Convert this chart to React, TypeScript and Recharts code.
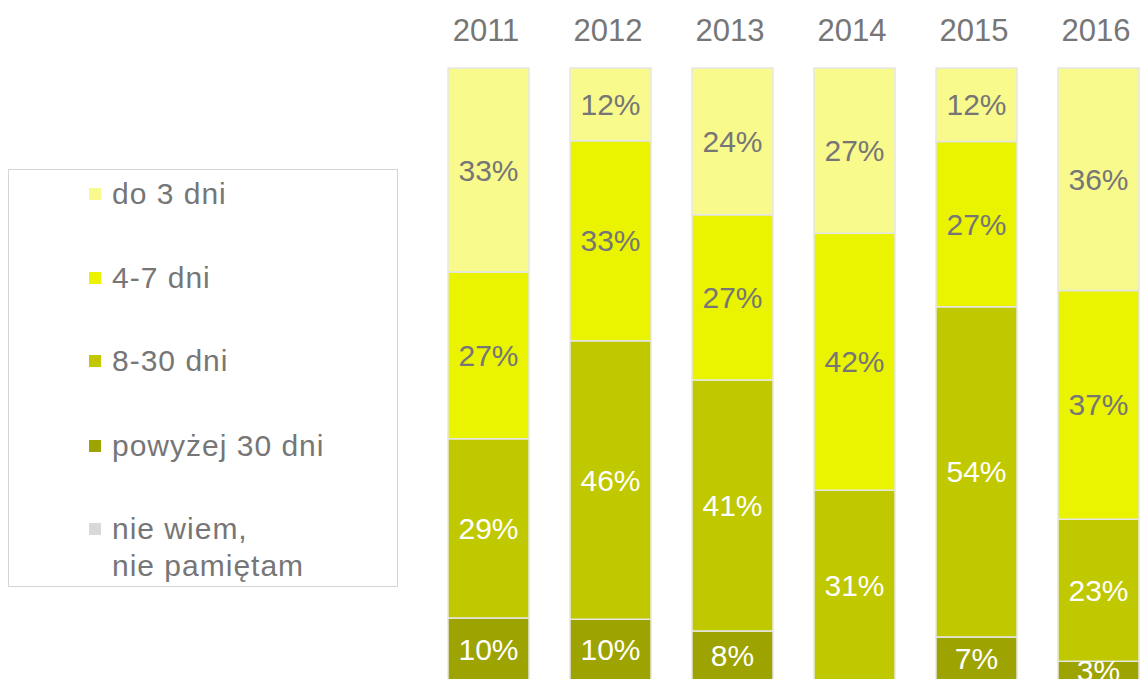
import React from 'react';
import { BarChart, Bar, XAxis, YAxis, Legend, LabelList } from 'recharts';

const years = ['2011', '2012', '2013', '2014', '2015', '2016'];
const do3Dni = [33, 12, 24, 27, 12, 36];
const dni4to7 = [27, 33, 27, 42, 27, 37];
const dni8to30 = [29, 46, 41, 31, 54, 23];
const powyzej30 = [10, 10, 8, 0, 7, 3];
const nieWiem = [1, 1, 1, 1, 1, 1];

const seriesKeys = ['do3', 'd47', 'd830', 'pow30', 'nw'];
const seriesNames = ['do 3 dni', '4-7 dni', '8-30 dni', 'powyżej 30 dni', 'nie wiem,\nnie pamiętam'];
const seriesColors = ['#F9FA8C', '#EAF400', '#C0C800', '#9DA300', '#D9D9D9'];

const data = years.map((y, i) => ({
  year: y,
  do3: do3Dni[i],
  d47: dni4to7[i],
  d830: dni8to30[i],
  pow30: powyzej30[i],
  nw: nieWiem[i],
}));

const GREY = '#767676';
const FONT = '"Liberation Sans", Arial, sans-serif';

const fmt = (v: any) => (v ? `${v}%` : '');

const legendCenters = [24, 108, 191, 276, 359];

const LegendBox = () => (
  <div
    style={{
      position: 'relative',
      width: 390,
      height: 418,
      boxSizing: 'border-box',
      border: '1px solid #d4d4d4',
      fontFamily: FONT,
      fontSize: 30,
      letterSpacing: 1,
      color: GREY,
    }}
  >
    {seriesNames.map((name, i) => {
      const lines = name.split('\n');
      return (
        <div key={name}>
          <div
            style={{
              position: 'absolute',
              left: 80,
              top: legendCenters[i] - 6,
              width: 12,
              height: 12,
              background: seriesColors[i],
            }}
          />
          {lines.map((ln, j) => (
            <div
              key={j}
              style={{
                position: 'absolute',
                left: 103,
                top: legendCenters[i] + j * 37 - 18,
                height: 36,
                lineHeight: '36px',
                whiteSpace: 'nowrap',
              }}
            >
              {ln}
            </div>
          ))}
        </div>
      );
    })}
  </div>
);

export default function App() {
  const barOrder = [4, 3, 2, 1, 0];
  return (
    <div
      style={{
        position: 'absolute',
        left: 0,
        top: 0,
        width: 1140,
        height: 679,
        overflow: 'hidden',
        background: '#ffffff',
        fontFamily: FONT,
      }}
    >
      <BarChart
        width={1172}
        height={700}
        data={data}
        stackOffset="expand"
        margin={{ top: 0, right: 13, bottom: 14, left: 427 }}
      >
        <XAxis
          dataKey="year"
          orientation="top"
          height={68}
          axisLine={false}
          tickLine={false}
          tickSize={0}
          tickMargin={27}
          interval={0}
          tick={{ fill: GREY, fontSize: 31, fontFamily: FONT, dx: -2 }}
        />
        <YAxis hide domain={[0, 1]} />
        <Legend
          layout="vertical"
          align="center"
          verticalAlign="middle"
          wrapperStyle={{ left: 8, top: 169, width: 390, height: 418 }}
          content={() => <LegendBox />}
        />
        {barOrder.map((idx) => (
          <Bar
            key={seriesKeys[idx]}
            dataKey={seriesKeys[idx]}
            name={seriesNames[idx]}
            stackId="a"
            fill={seriesColors[idx]}
            stroke="#e6e6e6"
            strokeWidth={1.5}
            barSize={81}
            isAnimationActive={false}
          >
            {idx !== 4 && (
              <LabelList
                dataKey={seriesKeys[idx]}
                position="center"
                formatter={fmt}
                fill={idx <= 1 ? GREY : '#ffffff'}
                fontSize={30}
                fontFamily={FONT}
              />
            )}
          </Bar>
        ))}
      </BarChart>
    </div>
  );
}
